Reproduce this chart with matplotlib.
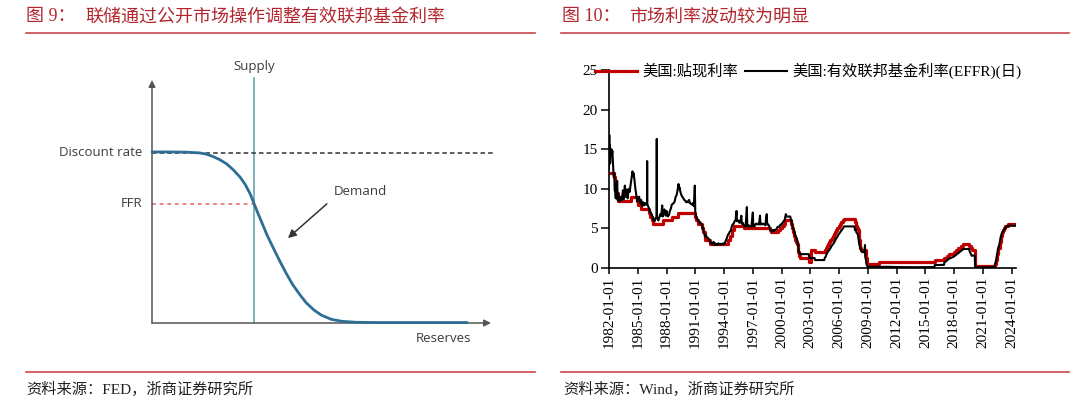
import matplotlib
matplotlib.use("Agg")
import matplotlib.pyplot as plt
from matplotlib.lines import Line2D
from matplotlib.font_manager import FontProperties

CJK = ["Liberation Serif", "Noto Sans CJK SC"]
RED_TXT = "#B3262D"
RED_LINE = "#C9474C"

# ---------- left: schematic reserve market (abstract units) ----------
demand_x = [0, 0.5, 1.0, 1.4, 1.6, 1.8, 2.0, 2.2, 2.4, 2.6, 2.75, 2.9, 3.0, 3.1,
            3.25, 3.4, 3.56, 3.75, 3.96, 4.15, 4.37, 4.55, 4.78, 5.0, 5.29, 5.6,
            6.0, 6.5, 7.5, 9.3]
demand_y = [7.04, 7.04, 7.03, 7.0, 6.95, 6.85, 6.72, 6.55, 6.3, 6.0, 5.7, 5.3,
            4.95, 4.6, 4.1, 3.6, 3.14, 2.6, 2.04, 1.58, 1.15, 0.83, 0.53, 0.32,
            0.15, 0.07, 0.03, 0.02, 0.02, 0.02]
supply_x = 3.0
discount_level = 7.0
ffr_level = 4.9

# ---------- right: discount rate vs EFFR ----------
discount_rate = [
    (1982.00, 12.0), (1982.55, 11.5), (1982.59, 11.0), (1982.62, 10.5), (1982.65, 10.0),
    (1982.78, 9.5), (1982.89, 9.0), (1982.95, 8.5), (1984.27, 9.0), (1984.89, 8.5),
    (1984.98, 8.0), (1985.38, 7.5), (1986.18, 7.0), (1986.30, 6.5), (1986.52, 6.0),
    (1986.64, 5.5), (1987.68, 6.0), (1988.60, 6.5), (1989.15, 7.0), (1990.97, 6.5),
    (1991.08, 6.0), (1991.33, 5.5), (1991.70, 5.0), (1991.85, 4.5), (1991.97, 3.5),
    (1992.50, 3.0), (1994.37, 3.5), (1994.62, 4.0), (1994.87, 4.75), (1995.08, 5.25),
    (1996.08, 5.0), (1998.79, 4.75), (1998.88, 4.5), (1999.64, 4.75), (1999.88, 5.0),
    (2000.09, 5.25), (2000.22, 5.5), (2000.37, 6.0), (2001.01, 5.5), (2001.08, 5.0),
    (2001.21, 4.5), (2001.29, 4.0), (2001.37, 3.5), (2001.49, 3.25), (2001.64, 3.0),
    (2001.71, 2.5), (2001.75, 2.0), (2001.84, 1.5), (2001.94, 1.25), (2002.85, 0.75),
    (2003.02, 2.25), (2003.48, 2.0), (2004.50, 2.25), (2004.61, 2.5), (2004.72, 2.75),
    (2004.86, 3.0), (2004.95, 3.25), (2005.09, 3.5), (2005.22, 3.75), (2005.34, 4.0),
    (2005.49, 4.25), (2005.61, 4.5), (2005.72, 4.75), (2005.83, 5.0), (2005.95, 5.25),
    (2006.08, 5.5), (2006.24, 5.75), (2006.36, 6.0), (2006.49, 6.25), (2007.63, 5.75),
    (2007.71, 5.25), (2007.83, 5.0), (2007.94, 4.75), (2008.06, 4.0), (2008.08, 3.5),
    (2008.205, 3.25), (2008.21, 2.5), (2008.33, 2.25), (2008.77, 1.75), (2008.82, 1.25),
    (2008.96, 0.5), (2010.13, 0.75), (2015.96, 1.0), (2016.95, 1.25), (2017.21, 1.5),
    (2017.45, 1.75), (2017.95, 2.0), (2018.22, 2.25), (2018.45, 2.5), (2018.74, 2.75),
    (2018.97, 3.0), (2019.58, 2.75), (2019.72, 2.5), (2019.83, 2.25), (2020.17, 1.75),
    (2020.21, 0.25), (2022.21, 0.5), (2022.34, 1.0), (2022.46, 1.75), (2022.57, 2.5),
    (2022.73, 3.25), (2022.84, 4.0), (2022.96, 4.5), (2023.09, 4.75), (2023.22, 5.0),
    (2023.34, 5.25), (2023.57, 5.5), (2024.45, 5.5),
]

effr = [
    (1982.00, 12.5), (1982.03, 16.8), (1982.06, 14.0), (1982.09, 15.5), (1982.12, 13.2),
    (1982.16, 14.8), (1982.20, 14.3), (1982.25, 15.0), (1982.30, 14.2), (1982.35, 14.8),
    (1982.40, 13.5), (1982.45, 12.4), (1982.50, 11.5), (1982.55, 12.0), (1982.60, 9.8),
    (1982.65, 10.2), (1982.70, 8.8), (1982.75, 10.6), (1982.80, 9.2), (1982.85, 11.0),
    (1982.90, 8.6), (1982.95, 9.4), (1983.00, 8.5), (1983.08, 8.9), (1983.15, 8.4),
    (1983.25, 9.0), (1983.35, 8.6), (1983.45, 9.8), (1983.55, 8.7), (1983.65, 10.4),
    (1983.75, 9.0), (1983.85, 9.9), (1983.95, 8.8), (1984.05, 10.0), (1984.15, 9.6),
    (1984.25, 10.5), (1984.35, 11.4), (1984.45, 12.2), (1984.50, 11.6), (1984.55, 12.0),
    (1984.65, 11.2), (1984.75, 10.0), (1984.85, 9.2), (1984.95, 8.4), (1985.05, 8.7),
    (1985.15, 9.0), (1985.25, 8.2), (1985.35, 8.6), (1985.45, 7.8), (1985.55, 8.3),
    (1985.65, 7.9), (1985.75, 8.2), (1985.85, 8.0), (1985.97, 8.1), (1985.98, 13.5),
    (1985.99, 8.0), (1986.05, 7.9), (1986.15, 7.6), (1986.25, 7.2), (1986.35, 7.0),
    (1986.45, 6.8), (1986.55, 6.4), (1986.65, 6.0), (1986.75, 5.9), (1986.85, 6.3),
    (1986.97, 6.4), (1986.98, 16.3), (1986.99, 6.5), (1987.05, 6.2), (1987.15, 6.0),
    (1987.25, 6.4), (1987.35, 6.8), (1987.45, 6.6), (1987.55, 7.9), (1987.60, 6.5),
    (1987.70, 7.0), (1987.78, 7.4), (1987.85, 6.9), (1987.92, 6.6), (1988.00, 7.2),
    (1988.08, 6.6), (1988.15, 6.5), (1988.25, 6.7), (1988.35, 7.2), (1988.45, 7.5),
    (1988.55, 8.0), (1988.65, 8.1), (1988.75, 8.2), (1988.85, 8.4), (1988.95, 9.0),
    (1989.05, 9.2), (1989.15, 9.8), (1989.25, 10.6), (1989.30, 10.0), (1989.35, 10.2),
    (1989.45, 9.6), (1989.55, 9.2), (1989.65, 9.0), (1989.75, 8.8), (1989.85, 8.6),
    (1989.95, 8.5), (1990.05, 8.3), (1990.15, 8.4), (1990.25, 8.3), (1990.35, 8.6),
    (1990.45, 8.2), (1990.55, 8.1), (1990.65, 8.0), (1990.75, 8.2), (1990.85, 7.8),
    (1990.95, 10.4), (1991.00, 7.0), (1991.10, 6.4), (1991.20, 6.2), (1991.30, 6.0),
    (1991.40, 5.8), (1991.50, 5.8), (1991.60, 5.6), (1991.70, 5.4), (1991.80, 5.0),
    (1991.90, 4.6), (1992.00, 4.0), (1992.10, 4.1), (1992.20, 3.9), (1992.30, 3.8),
    (1992.40, 3.7), (1992.50, 3.4), (1992.60, 3.2), (1992.70, 3.1), (1992.80, 3.0),
    (1992.90, 3.3), (1993.00, 2.9), (1993.10, 3.1), (1993.20, 2.9), (1993.30, 3.0),
    (1993.40, 3.1), (1993.50, 3.0), (1993.60, 3.05), (1993.70, 2.95), (1993.80, 3.0),
    (1993.90, 3.1), (1994.00, 3.0), (1994.10, 3.2), (1994.20, 3.5), (1994.30, 3.8),
    (1994.40, 4.2), (1994.50, 4.3), (1994.60, 4.6), (1994.70, 4.7), (1994.80, 5.2),
    (1994.90, 5.5), (1995.00, 5.6), (1995.10, 5.9), (1995.20, 6.0), (1995.30, 7.2),
    (1995.35, 5.9), (1995.50, 6.0), (1995.60, 5.7), (1995.70, 5.8), (1995.80, 6.6),
    (1995.85, 5.6), (1995.95, 5.7), (1996.05, 5.4), (1996.15, 5.2), (1996.25, 5.3),
    (1996.38, 7.7), (1996.42, 5.3), (1996.55, 5.4), (1996.65, 5.2), (1996.75, 5.3),
    (1996.85, 5.2), (1997.00, 7.0), (1997.05, 5.3), (1997.15, 5.2), (1997.25, 5.5),
    (1997.35, 5.6), (1997.45, 5.5), (1997.55, 5.6), (1997.65, 5.5), (1997.75, 6.6),
    (1997.80, 5.5), (1997.90, 5.6), (1998.00, 5.5), (1998.10, 5.6), (1998.20, 5.5),
    (1998.30, 5.4), (1998.45, 6.8), (1998.50, 5.5), (1998.60, 5.5), (1998.70, 5.3),
    (1998.80, 4.9), (1998.90, 4.7), (1999.00, 4.6), (1999.10, 4.8), (1999.20, 4.7),
    (1999.30, 4.8), (1999.40, 4.8), (1999.50, 5.0), (1999.60, 5.2), (1999.75, 5.2),
    (1999.90, 5.5), (2000.00, 5.5), (2000.10, 5.7), (2000.20, 5.9), (2000.30, 6.0),
    (2000.40, 6.5), (2000.45, 6.8), (2000.50, 6.5), (2000.70, 6.5), (2000.90, 6.5),
    (2001.00, 6.0), (2001.05, 5.9), (2001.10, 5.5), (2001.20, 5.0), (2001.30, 4.8),
    (2001.40, 4.2), (2001.50, 3.9), (2001.60, 3.7), (2001.70, 3.0), (2001.75, 2.5),
    (2001.80, 2.1), (2001.90, 1.8), (2002.00, 1.75), (2002.85, 1.75), (2002.88, 1.3),
    (2003.00, 1.25), (2003.45, 1.25), (2003.50, 1.0), (2004.45, 1.0), (2004.50, 1.25),
    (2004.60, 1.45), (2004.70, 1.75), (2004.80, 2.0), (2004.95, 2.25), (2005.10, 2.5),
    (2005.20, 2.75), (2005.35, 3.0), (2005.50, 3.25), (2005.60, 3.5), (2005.70, 3.75),
    (2005.85, 4.0), (2005.95, 4.25), (2006.10, 4.5), (2006.25, 4.75), (2006.40, 5.0),
    (2006.50, 5.25), (2007.60, 5.25), (2007.65, 4.8), (2007.72, 4.9), (2007.80, 4.5),
    (2007.95, 4.25), (2008.05, 3.5), (2008.10, 3.0), (2008.20, 2.6), (2008.30, 2.2),
    (2008.40, 2.0), (2008.55, 2.0), (2008.65, 2.1), (2008.70, 2.9), (2008.72, 1.5),
    (2008.80, 1.0), (2008.85, 0.5), (2008.95, 0.2), (2009.00, 0.15), (2011.00, 0.15),
    (2012.00, 0.12), (2014.00, 0.1), (2015.95, 0.12), (2015.97, 0.37), (2016.95, 0.4),
    (2016.97, 0.66), (2017.21, 0.91), (2017.45, 1.16), (2017.95, 1.42), (2018.22, 1.68),
    (2018.45, 1.91), (2018.74, 2.18), (2018.97, 2.40), (2019.58, 2.40), (2019.60, 2.13),
    (2019.72, 1.83), (2019.83, 1.55), (2020.16, 1.58), (2020.18, 0.65), (2020.21, 0.09),
    (2022.20, 0.08), (2022.22, 0.33), (2022.35, 0.83), (2022.46, 1.58), (2022.57, 2.33),
    (2022.73, 3.08), (2022.84, 3.83), (2022.96, 4.33), (2023.09, 4.58), (2023.22, 4.83),
    (2023.34, 5.08), (2023.57, 5.33), (2024.45, 5.33),
]

year_ticks = list(range(1982, 2025, 3))
year_labels = [f"{y}-01-01" for y in year_ticks]
rate_ticks = [0, 5, 10, 15, 20, 25]

W, H = 1080, 411
fig = plt.figure(figsize=(W / 100, H / 100), dpi=100)


def fx(x):
    return x / W


def fy(y):
    return 1 - y / H


def hline(x0, x1, y):
    fig.add_artist(Line2D([fx(x0), fx(x1)], [fy(y), fy(y)], color=RED_LINE, lw=1.2,
                          transform=fig.transFigure))


# headers and footers
fig.text(fx(26), fy(17), "图 9：", family=CJK, size=13, color=RED_TXT, va="center")
fig.text(fx(85), fy(17), "联储通过公开市场操作调整有效联邦基金利率", family=CJK, size=13,
         color=RED_TXT, va="center")
fig.text(fx(562), fy(17), "图 10：", family=CJK, size=13, color=RED_TXT, va="center")
fig.text(fx(629), fy(17), "市场利率波动较为明显", family=CJK, size=13, color=RED_TXT,
         va="center")
hline(26, 535, 33)
hline(561, 1069, 33)
hline(26, 535, 372)
hline(561, 1069, 372)
fig.text(fx(26), fy(389), "资料来源：FED，浙商证券研究所", family=CJK, size=11,
         color="#222222", va="center")
fig.text(fx(563), fy(389), "资料来源：Wind，浙商证券研究所", family=CJK, size=11,
         color="#222222", va="center")

# ---------- left diagram ----------
ax1 = fig.add_axes([fx(152), fy(323), 339 / W, 243 / H])
ax1.set_xlim(0, 10)
ax1.set_ylim(0, 10)
ax1.axis("off")
axis_col = "#555555"
ax1.annotate("", xy=(0, 10.0), xytext=(0, 0),
             arrowprops=dict(arrowstyle="-|>", color=axis_col, lw=1.1, mutation_scale=10,
                             shrinkA=0, shrinkB=0), annotation_clip=False)
ax1.annotate("", xy=(10.0, 0), xytext=(0, 0),
             arrowprops=dict(arrowstyle="-|>", color=axis_col, lw=1.1, mutation_scale=10,
                             shrinkA=0, shrinkB=0), annotation_clip=False)
ax1.plot([supply_x, supply_x], [0, 10.1], color="#6AA6AE", lw=1.2, clip_on=False)
ax1.plot([0, 10.05], [discount_level, discount_level], color="#333333", lw=1.1,
         dashes=(3, 2), clip_on=False)
ax1.plot([0, supply_x], [ffr_level, ffr_level], color="#E06666", lw=1.1,
         dashes=(2.5, 2.5), clip_on=False)
ax1.plot(demand_x, demand_y, color="#2E6E95", lw=2.0, solid_capstyle="round",
         clip_on=False, zorder=3)
ax1.annotate("", xy=(3.95, 3.42), xytext=(5.22, 4.98),
             arrowprops=dict(arrowstyle="-|>", color="#333333", lw=1.1, mutation_scale=12))

txt = dict(family="Open Sans", size=9.5, color="#3C3C3C")
ax1.text(supply_x, 10.55, "Supply", ha="center", va="center", **txt)
ax1.text(-0.27, discount_level, "Discount rate", ha="right", va="center", **txt)
ax1.text(-0.27, ffr_level, "FFR", ha="right", va="center", **txt)
ax1.text(5.37, 5.4, "Demand", ha="left", va="center", **txt)
ax1.text(8.6, -0.62, "Reserves", ha="center", va="center", **txt)

# ---------- right chart ----------
ax2 = fig.add_axes([fx(609), fy(268), 407 / W, 198 / H])
dr_t, dr_v = zip(*discount_rate)
ef_t, ef_v = zip(*effr)
ax2.plot(dr_t, dr_v, drawstyle="steps-post", color="#C00000", lw=2.3, label="美国:贴现利率")
ax2.plot(ef_t, ef_v, color="black", lw=1.5, label="美国:有效联邦基金利率(EFFR)(日)")
ax2.set_xlim(1982, 2024.45)
ax2.set_ylim(0, 25)
for s in ("top", "right"):
    ax2.spines[s].set_visible(False)
for s in ("left", "bottom"):
    ax2.spines[s].set_linewidth(1.2)
ax2.set_xticks(year_ticks)
ax2.set_xticklabels(year_labels, rotation=90, family="Liberation Serif", size=11)
ax2.set_yticks(rate_ticks)
ax2.set_yticklabels([str(v) for v in rate_ticks], family="Liberation Serif", size=11)
ax2.tick_params(axis="y", direction="out", length=6, width=1.1, pad=2)
ax2.tick_params(axis="x", direction="out", length=4.5, width=1.1, pad=2)
ax2.legend(loc="center left", bbox_to_anchor=(fx(595), fy(71)), bbox_transform=fig.transFigure,
           ncol=2, frameon=False, handlelength=2.75, handletextpad=0.35, columnspacing=0.45,
           borderpad=0, borderaxespad=0, prop=FontProperties(family=CJK, size=11))

fig.savefig("out.png", dpi=100)
